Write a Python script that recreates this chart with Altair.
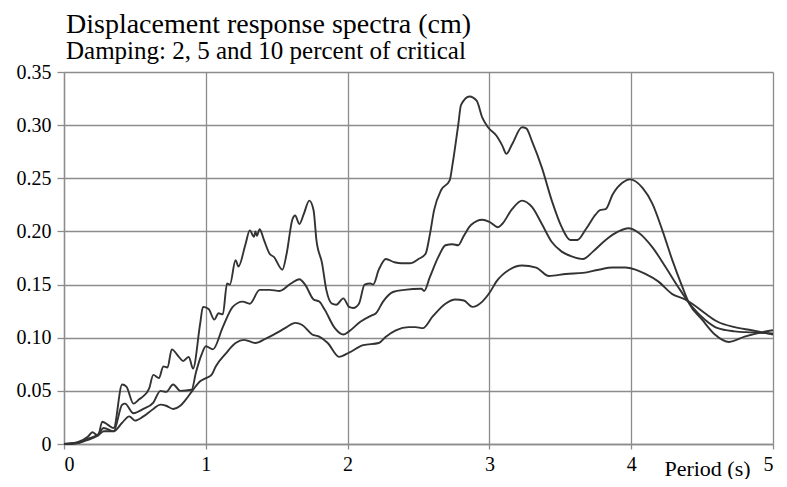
import altair as alt
import pandas as pd

# Period (s) and displacement (cm) for each damping level
x2 = [0, 0.1, 0.17, 0.2, 0.24, 0.27, 0.31, 0.35, 0.41, 0.44, 0.49, 0.53, 0.56, 0.60, 0.63, 0.67, 0.70, 0.73,
      0.76, 0.81, 0.84, 0.88, 0.91, 0.96, 0.98, 1.02, 1.06, 1.09, 1.12, 1.15, 1.17, 1.21, 1.23, 1.28, 1.31,
      1.34, 1.35, 1.36, 1.38, 1.41, 1.45, 1.48, 1.54, 1.57, 1.61, 1.63, 1.66, 1.69, 1.73, 1.76, 1.78, 1.82,
      1.85, 1.89, 1.92, 1.97, 2.01, 2.04, 2.08, 2.12, 2.16, 2.18, 2.22, 2.27, 2.33, 2.38, 2.44, 2.50, 2.55,
      2.58, 2.61, 2.66, 2.72, 2.74, 2.78, 2.80, 2.86, 2.91, 2.95, 2.99, 3.05, 3.09, 3.12, 3.16, 3.23, 3.26,
      3.30, 3.37, 3.44, 3.51, 3.57, 3.62, 3.68, 3.75, 3.78, 3.82, 3.87, 3.94, 3.99, 4.08, 4.15, 4.22, 4.29,
      4.36, 4.41, 4.50, 4.59, 4.69, 4.80, 4.92, 5.0]
y2 = [0, 0.002, 0.007, 0.011, 0.008, 0.021, 0.018, 0.015, 0.056, 0.054, 0.038, 0.042, 0.045, 0.052, 0.065,
      0.062, 0.073, 0.072, 0.089, 0.082, 0.078, 0.082, 0.071, 0.113, 0.129, 0.127, 0.117, 0.123, 0.122, 0.151,
      0.150, 0.173, 0.167, 0.188, 0.201, 0.195, 0.200, 0.196, 0.202, 0.192, 0.179, 0.176, 0.164, 0.179, 0.211,
      0.215, 0.207, 0.216, 0.229, 0.220, 0.192, 0.170, 0.145, 0.132, 0.131, 0.137, 0.129, 0.128, 0.132, 0.150,
      0.151, 0.150, 0.164, 0.174, 0.171, 0.170, 0.170, 0.174, 0.179, 0.197, 0.220, 0.239, 0.248, 0.263, 0.300,
      0.319, 0.327, 0.323, 0.307, 0.298, 0.290, 0.281, 0.273, 0.282, 0.298, 0.297, 0.285, 0.260, 0.229, 0.204,
      0.192, 0.192, 0.202, 0.216, 0.220, 0.221, 0.235, 0.246, 0.249, 0.241, 0.226, 0.201, 0.173, 0.148, 0.132,
      0.117, 0.103, 0.096, 0.101, 0.105, 0.107]

x5 = [0, 0.1, 0.17, 0.24, 0.28, 0.35, 0.41, 0.43, 0.49, 0.56, 0.63, 0.68, 0.72, 0.77, 0.82, 0.90, 0.93, 0.97,
      1.00, 1.05, 1.12, 1.19, 1.26, 1.31, 1.38, 1.45, 1.52, 1.60, 1.66, 1.70, 1.76, 1.80, 1.84, 1.91, 1.97,
      2.01, 2.09, 2.17, 2.20, 2.25, 2.32, 2.40, 2.52, 2.54, 2.58, 2.64, 2.69, 2.74, 2.78, 2.82, 2.87, 2.95,
      3.00, 3.06, 3.09, 3.16, 3.23, 3.30, 3.37, 3.44, 3.51, 3.59, 3.66, 3.73, 3.82, 3.91, 3.98, 4.05, 4.15,
      4.24, 4.33, 4.43, 4.52, 4.61, 4.73, 4.85, 5.0]
y5 = [0, 0.001, 0.005, 0.009, 0.015, 0.012, 0.037, 0.038, 0.029, 0.033, 0.039, 0.050, 0.049, 0.056, 0.050,
      0.051, 0.067, 0.084, 0.092, 0.089, 0.110, 0.129, 0.134, 0.132, 0.145, 0.145, 0.144, 0.151, 0.155, 0.150,
      0.136, 0.134, 0.126, 0.109, 0.103, 0.106, 0.115, 0.121, 0.123, 0.134, 0.143, 0.145, 0.146, 0.144, 0.157,
      0.176, 0.187, 0.188, 0.187, 0.196, 0.206, 0.211, 0.209, 0.204, 0.207, 0.221, 0.229, 0.223, 0.207, 0.190,
      0.181, 0.176, 0.174, 0.181, 0.192, 0.200, 0.203, 0.199, 0.185, 0.167, 0.148, 0.129, 0.117, 0.109, 0.106,
      0.105, 0.104]

x10 = [0, 0.1, 0.17, 0.24, 0.28, 0.35, 0.41, 0.46, 0.50, 0.56, 0.63, 0.68, 0.72, 0.77, 0.82, 0.86, 0.91, 0.96,
       1.00, 1.04, 1.07, 1.14, 1.21, 1.27, 1.35, 1.42, 1.52, 1.57, 1.63, 1.68, 1.75, 1.80, 1.86, 1.94, 2.01,
       2.11, 2.22, 2.27, 2.34, 2.43, 2.48, 2.53, 2.60, 2.69, 2.76, 2.82, 2.88, 2.95, 3.00, 3.05, 3.14, 3.23,
       3.33, 3.42, 3.54, 3.66, 3.77, 3.87, 3.96, 4.03, 4.10, 4.19, 4.29, 4.38, 4.43, 4.52, 4.61, 4.73, 4.85, 5.0]
y10 = [0, 0.001, 0.004, 0.008, 0.012, 0.012, 0.020, 0.026, 0.022, 0.026, 0.033, 0.037, 0.036, 0.033, 0.036,
       0.042, 0.051, 0.059, 0.062, 0.065, 0.073, 0.085, 0.095, 0.098, 0.095, 0.099, 0.106, 0.110, 0.114, 0.112,
       0.103, 0.101, 0.095, 0.082, 0.086, 0.093, 0.095, 0.101, 0.107, 0.110, 0.110, 0.109, 0.120, 0.132, 0.136,
       0.135, 0.129, 0.134, 0.142, 0.153, 0.164, 0.168, 0.166, 0.158, 0.160, 0.161, 0.164, 0.166, 0.166, 0.164,
       0.160, 0.153, 0.141, 0.136, 0.132, 0.123, 0.115, 0.110, 0.107, 0.103]

x_ticks = [0, 1, 2, 3, 4, 5]
y_ticks = [0, 0.05, 0.10, 0.15, 0.20, 0.25, 0.30, 0.35]

frames = []
for name, xs, ys in [("2%", x2, y2), ("5%", x5, y5), ("10%", x10, y10)]:
    frames.append(pd.DataFrame({"period": xs, "disp": ys, "damping": name}))
df = pd.concat(frames, ignore_index=True)

FONT = "Liberation Serif"

chart = alt.Chart(df).mark_line(
    color="#333333", strokeWidth=1.9, interpolate="monotone"
).encode(
    x=alt.X("period:Q", scale=alt.Scale(domain=[0, 5], nice=False),
            axis=alt.Axis(values=x_ticks, format="d", title="Period (s)",
                          titleX=643, titleY=31, titleAlign="center",
                          titleBaseline="alphabetic", titleFontSize=22,
                          titleFontWeight="normal", titleFont=FONT,
                          tickSize=5, labelPadding=5)),
    y=alt.Y("disp:Q", scale=alt.Scale(domain=[0, 0.35], nice=False),
            axis=alt.Axis(values=y_ticks, title=None, tickSize=7, labelPadding=6,
                          labelExpr="datum.value == 0 ? '0' : format(datum.value, '.2f')")),
    detail="damping:N",
).properties(
    width=709, height=372,
    autosize=alt.AutoSizeParams(type="none"),
    padding={"left": 56, "top": 64, "right": 6, "bottom": 35},
    title=alt.TitleParams(
        "Displacement response spectra (cm)",
        subtitle="Damping: 2, 5 and 10 percent of critical",
        anchor="start", frame="group", font=FONT, fontSize=28, fontWeight="normal",
        subtitleFont=FONT, subtitleFontSize=25, subtitleColor="#000", color="#000",
        offset=-2, subtitlePadding=0, dx=2,
    ),
).configure_view(
    stroke=None
).configure_axis(
    labelFont=FONT, labelFontSize=20, labelColor="#000",
    gridColor="#8c8c8c", gridWidth=1.3, gridOpacity=1,
    domainColor="#8c8c8c", domainWidth=1.3, tickColor="#8c8c8c", tickWidth=1.3,
)

chart.save("out.html", embed_options={"renderer": "svg", "actions": False})
